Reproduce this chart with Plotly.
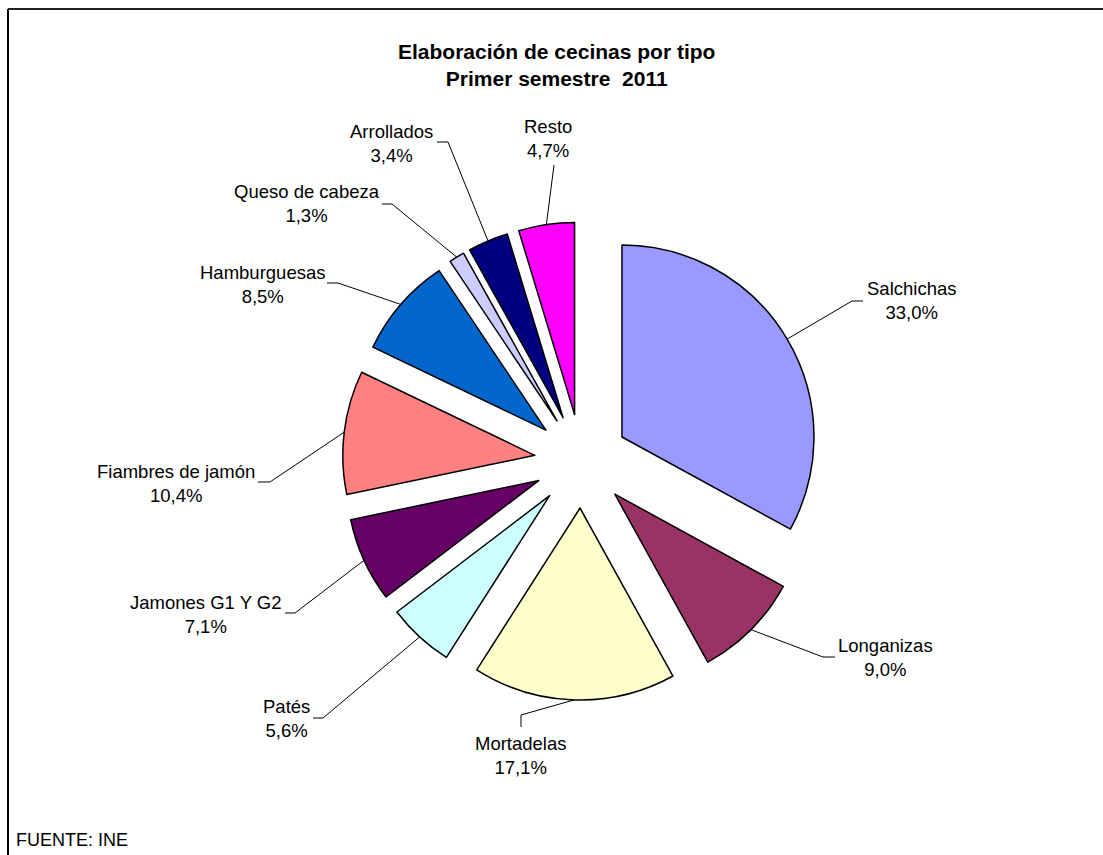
import math
import plotly.graph_objects as go

tipos = ["Salchichas", "Longanizas", "Mortadelas", "Patés", "Jamones G1 Y G2",
         "Fiambres de jamón", "Hamburguesas", "Queso de cabeza", "Arrollados", "Resto"]
porcentajes = [33.0, 9.0, 17.1, 5.6, 7.1, 10.4, 8.5, 1.3, 3.4, 4.7]
colores = ["#9999FF", "#993366", "#FFFFCC", "#CCFFFF", "#660066",
           "#FF8080", "#0066CC", "#CCCCFF", "#000080", "#FF00FF"]

W, H = 1103, 855
cx, cy = 581.5, 461.0     # pie centre (px)
r = 192.0                 # slice radius (px)
pull = 0.245
half = r * (1 + pull)

# label placement (px): text centre, elbow, tail
txt_pos = [(911, 300), (885, 657), (521, 755), (286, 718), (206, 614),
           (176, 483), (262, 284), (307, 203), (391, 143), (548, 138)]
elbow = [(852, 301), (823, 657), (521, 715), (323, 718), (295, 613),
         (270, 482), (338, 283), (392, 204), (448, 142), (554, 165)]
tail = [(863, 301), (835, 657), (521, 727), (313, 718), (285, 613),
        (258, 482), (327, 283), (382, 204), (437, 142), (554, 165)]


def px(x):
    return x / W


def py(y):
    return 1 - y / H


fig = go.Figure(go.Pie(
    labels=tipos, values=porcentajes, sort=False, direction="clockwise", rotation=0,
    marker=dict(colors=colores, line=dict(color="black", width=1.5)),
    pull=[pull] * len(tipos), textinfo="none", hoverinfo="label+percent",
    domain=dict(x=[px(cx - half), px(cx + half)], y=[py(cy + half), py(cy - half)]),
))

total = sum(porcentajes)
acum = 0
shapes = []
annotations = []
for i, (t, v) in enumerate(zip(tipos, porcentajes)):
    mid = (acum + v / 2) / total * 2 * math.pi
    acum += v
    ax_ = cx + half * math.sin(mid)
    ay_ = cy - half * math.cos(mid)
    ex, ey = elbow[i]
    tx, ty = tail[i]
    shapes.append(dict(type="path", xref="paper", yref="paper",
                       path=f"M {px(ax_)},{py(ay_)} L {px(ex)},{py(ey)} L {px(tx)},{py(ty)}",
                       line=dict(color="black", width=1)))
    lbl = f"{t}<br>{v:.1f}".replace(".", ",") + "%"
    annotations.append(dict(x=px(txt_pos[i][0]), y=py(txt_pos[i][1]), xref="paper", yref="paper",
                            text=lbl, showarrow=False, xanchor="center", yanchor="middle",
                            align="center", font=dict(size=18.5, color="black")))

annotations.append(dict(x=px(556), y=py(65), xref="paper", yref="paper",
                        text="<b>Elaboración de cecinas por tipo<br>Primer semestre\u00a0 2011</b>",
                        showarrow=False, xanchor="center", yanchor="middle", align="center",
                        font=dict(size=21, color="black")))
annotations.append(dict(x=px(14), y=py(840), xref="paper", yref="paper", text="FUENTE: INE",
                        showarrow=False, xanchor="left", yanchor="middle",
                        font=dict(size=18, color="black")))

# chart frame (top and left edges visible)
shapes.append(dict(type="line", xref="paper", yref="paper", x0=px(8), x1=1.01, y0=py(9), y1=py(9),
                   line=dict(color="#222", width=2)))
shapes.append(dict(type="line", xref="paper", yref="paper", x0=px(8), x1=px(8), y0=py(9), y1=-0.01,
                   line=dict(color="black", width=2)))

fig.update_layout(
    width=W, height=H, margin=dict(l=0, r=0, t=0, b=0),
    paper_bgcolor="white", plot_bgcolor="white", showlegend=False,
    font=dict(family="Liberation Sans, Arial, sans-serif"),
    shapes=shapes, annotations=annotations,
)

fig.write_html("out.html", config={"displayModeBar": False},
               post_script="document.body.style.margin='0';")
